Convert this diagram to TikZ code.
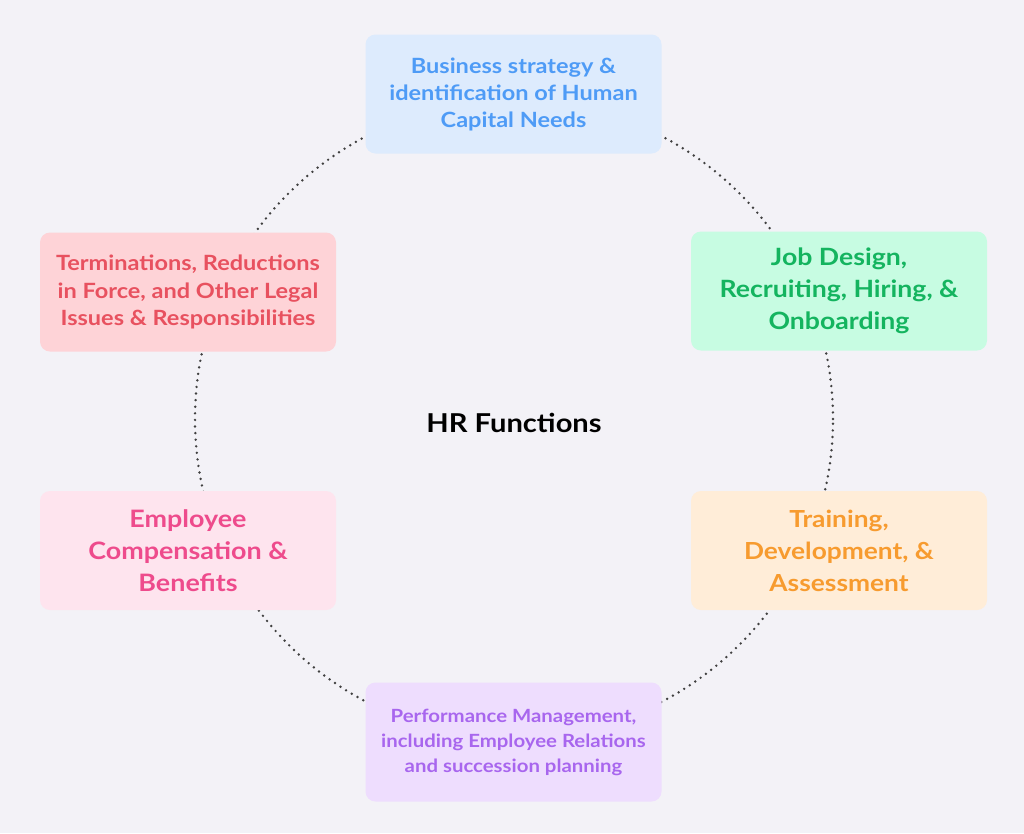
\documentclass[tikz,border=0pt]{standalone}
\usepackage{fontspec}
\setmainfont{Lato}[FakeStretch=1.12]
\usepackage{tikz}
\usetikzlibrary{positioning}
\definecolor{bgc}{HTML}{F3F2F7}
\definecolor{bluef}{HTML}{DDEBFD}
\definecolor{bluet}{HTML}{4E9BF6}
\definecolor{greenf}{HTML}{C7FCE2}
\definecolor{greent}{HTML}{14B45F}
\definecolor{orangef}{HTML}{FFEDD8}
\definecolor{oranget}{HTML}{F79B2F}
\definecolor{purplef}{HTML}{EEDDFE}
\definecolor{purplet}{HTML}{A866EE}
\definecolor{pinkf}{HTML}{FEE4EE}
\definecolor{pinkt}{HTML}{EE4B8C}
\definecolor{redf}{HTML}{FED3D7}
\definecolor{redt}{HTML}{E8515F}
\tikzset{
  hrbox/.style={rectangle, rounded corners=10pt, minimum width=296pt,
                minimum height=119pt, align=center, font=\bfseries},
  ring/.style={draw=black!75, line width=2.7pt, line cap=round,
               dash pattern=on 0pt off 6.6pt}
}

\begin{document}
\begin{tikzpicture}[x=1pt, y=-1pt]
        \useasboundingbox[fill=bgc] (0,0) rectangle (1024,833);
        \draw[ring] (514,419) circle [radius=319pt];
        \node[hrbox, fill=bluef, text=bluet, font=\bfseries\fontsize{21}{27}\selectfont]
            (strategy) at (513.5,94) {Business strategy \&\\identification of Human\\Capital Needs};
        \node[hrbox, fill=greenf, text=greent, font=\bfseries\fontsize{23.8}{32}\selectfont]
            (hiring) at (839,291) {Job Design,\\Recruiting, Hiring, \&\\Onboarding};
        \node[hrbox, fill=orangef, text=oranget, font=\bfseries\fontsize{23.5}{32}\selectfont]
            (training) at (839,550.5) {Training,\\Development, \&\\Assessment};
        \node[hrbox, fill=purplef, text=purplet, font=\bfseries\fontsize{18.2}{25}\selectfont]
            (performance) at (513.5,742) {Performance Management,\\including Employee Relations\\and succession planning};
        \node[hrbox, fill=pinkf, text=pinkt, font=\bfseries\fontsize{24}{32}\selectfont]
            (compensation) at (188,550.5) {Employee\\Compensation \&\\Benefits};
        \node[hrbox, fill=redf, text=redt, font=\bfseries\fontsize{21}{27.5}\selectfont]
            (terminations) at (188,292) {Terminations, Reductions\\in Force, and Other Legal\\Issues \& Responsibilities};
        \node[font=\bfseries\fontsize{26}{30}\selectfont] (hr) at (514,423) {HR Functions};
    \end{tikzpicture}
\end{document}
